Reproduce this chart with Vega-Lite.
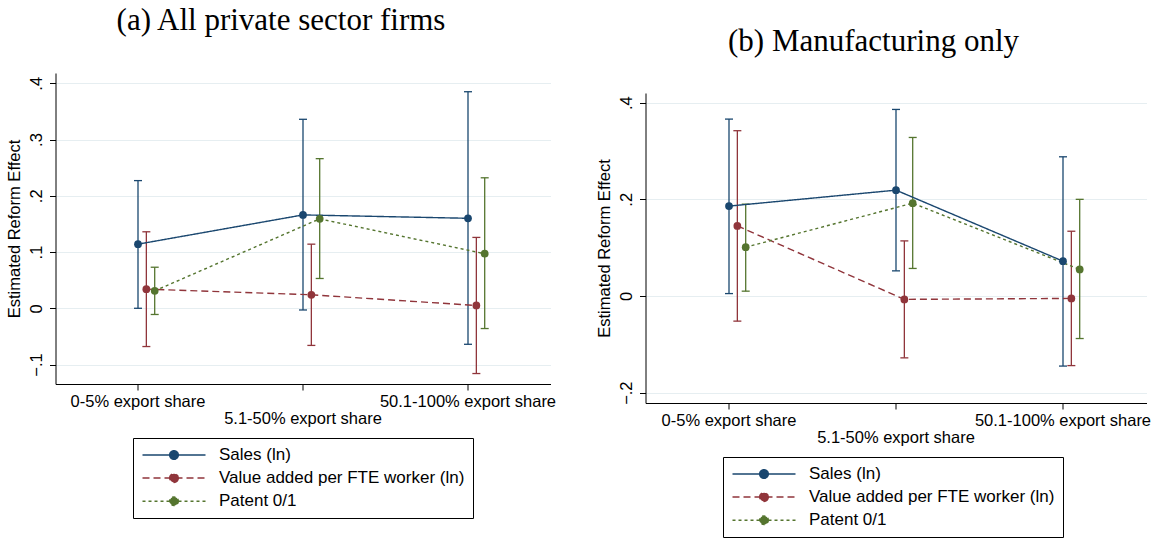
{
  "$schema": "https://vega.github.io/schema/vega-lite/v6.json",
  "background": "white",
  "padding": {"left": 6.5, "top": 5, "right": 0, "bottom": 0},
  "datasets": {
    "est": [
      {"panel": "a", "cat": "0-5% export share", "series": "Sales (ln)", "est": 0.114, "lo": 0.0, "hi": 0.227},
      {"panel": "a", "cat": "5.1-50% export share", "series": "Sales (ln)", "est": 0.166, "lo": -0.003, "hi": 0.336},
      {"panel": "a", "cat": "50.1-100% export share", "series": "Sales (ln)", "est": 0.16, "lo": -0.064, "hi": 0.385},
      {"panel": "a", "cat": "0-5% export share", "series": "Value added per FTE worker (ln)", "est": 0.034, "lo": -0.068, "hi": 0.136},
      {"panel": "a", "cat": "5.1-50% export share", "series": "Value added per FTE worker (ln)", "est": 0.024, "lo": -0.066, "hi": 0.114},
      {"panel": "a", "cat": "50.1-100% export share", "series": "Value added per FTE worker (ln)", "est": 0.005, "lo": -0.116, "hi": 0.126},
      {"panel": "a", "cat": "0-5% export share", "series": "Patent 0/1", "est": 0.031, "lo": -0.011, "hi": 0.073},
      {"panel": "a", "cat": "5.1-50% export share", "series": "Patent 0/1", "est": 0.159, "lo": 0.053, "hi": 0.266},
      {"panel": "a", "cat": "50.1-100% export share", "series": "Patent 0/1", "est": 0.097, "lo": -0.036, "hi": 0.232},
      {"panel": "b", "cat": "0-5% export share", "series": "Sales (ln)", "est": 0.186, "lo": 0.005, "hi": 0.366},
      {"panel": "b", "cat": "5.1-50% export share", "series": "Sales (ln)", "est": 0.219, "lo": 0.052, "hi": 0.386},
      {"panel": "b", "cat": "50.1-100% export share", "series": "Sales (ln)", "est": 0.072, "lo": -0.145, "hi": 0.288},
      {"panel": "b", "cat": "0-5% export share", "series": "Value added per FTE worker (ln)", "est": 0.145, "lo": -0.052, "hi": 0.342},
      {"panel": "b", "cat": "5.1-50% export share", "series": "Value added per FTE worker (ln)", "est": -0.007, "lo": -0.128, "hi": 0.114},
      {"panel": "b", "cat": "50.1-100% export share", "series": "Value added per FTE worker (ln)", "est": -0.005, "lo": -0.144, "hi": 0.134},
      {"panel": "b", "cat": "0-5% export share", "series": "Patent 0/1", "est": 0.101, "lo": 0.01, "hi": 0.19},
      {"panel": "b", "cat": "5.1-50% export share", "series": "Patent 0/1", "est": 0.192, "lo": 0.057, "hi": 0.328},
      {"panel": "b", "cat": "50.1-100% export share", "series": "Patent 0/1", "est": 0.055, "lo": -0.088, "hi": 0.2}
    ]
  },
  "spacing": 40,
  "hconcat": [
    {
      "width": 495,
      "height": 311,
      "title": {"text": "(a) All private sector firms", "offset": 36},
      "data": {"name": "est"},
      "transform": [{"filter": "datum.panel == 'a'"}],
      "encoding": {
        "x": {
          "field": "cat", "type": "nominal", "title": null,
          "scale": {"type": "band", "paddingInner": 0, "paddingOuter": 0, "domain": ["0-5% export share", "5.1-50% export share", "50.1-100% export share"]},
          "axis": {"labelExpr": "datum.value == '5.1-50% export share' ? ['', datum.value] : datum.value"}
        },
        "xOffset": {
          "field": "series", "type": "nominal",
          "scale": {"type": "point", "padding": 0, "domain": ["Sales (ln)", "Value added per FTE worker (ln)", "Patent 0/1"], "range": [82.5, 99.2]}
        }
      },
      "layer": [
        {
          "mark": {"type": "rule", "strokeWidth": 1.3},
          "encoding": {
            "y": {
              "field": "lo", "type": "quantitative", "title": "Estimated Reform Effect",
              "scale": {"domain": [-0.1346, 0.4183], "nice": false, "zero": false},
              "axis": {"values": [-0.1, 0, 0.1, 0.2, 0.3, 0.4], "labelExpr": "datum.value == 0 ? '0' : replace(format(datum.value, '.1f'), '0.', '.')"}
            },
            "y2": {"field": "hi"},
            "stroke": {"field": "series", "type": "nominal", "scale": {"domain": ["Sales (ln)", "Value added per FTE worker (ln)", "Patent 0/1"], "range": ["#1a476f", "#90353b", "#55752f"]}}
          }
        },
        {
          "mark": {"type": "point", "shape": "stroke", "size": 64, "strokeWidth": 1.3, "opacity": 1},
          "encoding": {
            "y": {"field": "lo", "type": "quantitative"},
            "stroke": {"field": "series", "type": "nominal"}
          }
        },
        {
          "mark": {"type": "point", "shape": "stroke", "size": 64, "strokeWidth": 1.3, "opacity": 1},
          "encoding": {
            "y": {"field": "hi", "type": "quantitative"},
            "stroke": {"field": "series", "type": "nominal"}
          }
        },
        {
          "mark": {"type": "line", "strokeWidth": 1.4},
          "encoding": {
            "y": {"field": "est", "type": "quantitative"},
            "stroke": {
              "field": "series", "type": "nominal",
              "legend": {
                "orient": "none", "legendX": 77.5, "legendY": 365, "title": null, "direction": "vertical",
                "symbolType": "M-6.3,0L6.3,0M0.86,0A0.86,0.86,0,1,1,-0.86,0A0.86,0.86,0,1,1,0.86,0",
                "symbolSize": 100, "symbolStrokeWidth": 1.5, "symbolOffset": 24, "labelOffset": 36.5,
                "padding": 8.5, "rowPadding": 5.1, "strokeColor": "black", "labelLimit": 400
              }
            },
            "strokeDash": {"field": "series", "type": "nominal", "scale": {"domain": ["Sales (ln)", "Value added per FTE worker (ln)", "Patent 0/1"], "range": [[1, 0], [7, 4], [3, 3]]}}
          }
        },
        {
          "mark": {"type": "point", "filled": true, "size": 60, "opacity": 1},
          "encoding": {
            "y": {"field": "est", "type": "quantitative"},
            "fill": {"field": "series", "type": "nominal", "scale": {"domain": ["Sales (ln)", "Value added per FTE worker (ln)", "Patent 0/1"], "range": ["#1a476f", "#90353b", "#55752f"]}}
          }
        }
      ]
    },
    {
      "width": 501,
      "height": 330,
      "title": {"text": "(b) Manufacturing only", "offset": 15},
      "data": {"name": "est"},
      "transform": [{"filter": "datum.panel == 'b'"}],
      "encoding": {
        "x": {
          "field": "cat", "type": "nominal", "title": null,
          "scale": {"type": "band", "paddingInner": 0, "paddingOuter": 0, "domain": ["0-5% export share", "5.1-50% export share", "50.1-100% export share"]},
          "axis": {"labelExpr": "datum.value == '5.1-50% export share' ? ['', datum.value] : datum.value"}
        },
        "xOffset": {
          "field": "series", "type": "nominal",
          "scale": {"type": "point", "padding": 0, "domain": ["Sales (ln)", "Value added per FTE worker (ln)", "Patent 0/1"], "range": [83.5, 100.2]}
        }
      },
      "layer": [
        {
          "mark": {"type": "rule", "strokeWidth": 1.3},
          "encoding": {
            "y": {
              "field": "lo", "type": "quantitative", "title": "Estimated Reform Effect",
              "scale": {"domain": [-0.2214, 0.42], "nice": false, "zero": false, "range": [330, 20]},
              "axis": {"values": [-0.2, 0, 0.2, 0.4], "labelExpr": "datum.value == 0 ? '0' : replace(format(datum.value, '.1f'), '0.', '.')"}
            },
            "y2": {"field": "hi"},
            "stroke": {"field": "series", "type": "nominal", "scale": {"domain": ["Sales (ln)", "Value added per FTE worker (ln)", "Patent 0/1"], "range": ["#1a476f", "#90353b", "#55752f"]}}
          }
        },
        {
          "mark": {"type": "point", "shape": "stroke", "size": 64, "strokeWidth": 1.3, "opacity": 1},
          "encoding": {
            "y": {"field": "lo", "type": "quantitative"},
            "stroke": {"field": "series", "type": "nominal"}
          }
        },
        {
          "mark": {"type": "point", "shape": "stroke", "size": 64, "strokeWidth": 1.3, "opacity": 1},
          "encoding": {
            "y": {"field": "hi", "type": "quantitative"},
            "stroke": {"field": "series", "type": "nominal"}
          }
        },
        {
          "mark": {"type": "line", "strokeWidth": 1.4},
          "encoding": {
            "y": {"field": "est", "type": "quantitative"},
            "stroke": {
              "field": "series", "type": "nominal",
              "legend": {
                "orient": "none", "legendX": 77.5, "legendY": 384, "title": null, "direction": "vertical",
                "symbolType": "M-6.3,0L6.3,0M0.86,0A0.86,0.86,0,1,1,-0.86,0A0.86,0.86,0,1,1,0.86,0",
                "symbolSize": 100, "symbolStrokeWidth": 1.5, "symbolOffset": 24, "labelOffset": 36.5,
                "padding": 8.5, "rowPadding": 5.1, "strokeColor": "black", "labelLimit": 400
              }
            },
            "strokeDash": {"field": "series", "type": "nominal", "scale": {"domain": ["Sales (ln)", "Value added per FTE worker (ln)", "Patent 0/1"], "range": [[1, 0], [7, 4], [3, 3]]}}
          }
        },
        {
          "mark": {"type": "point", "filled": true, "size": 60, "opacity": 1},
          "encoding": {
            "y": {"field": "est", "type": "quantitative"},
            "fill": {"field": "series", "type": "nominal", "scale": {"domain": ["Sales (ln)", "Value added per FTE worker (ln)", "Patent 0/1"], "range": ["#1a476f", "#90353b", "#55752f"]}}
          }
        }
      ]
    }
  ],
  "resolve": {
    "scale": {"x": "independent", "y": "independent", "xOffset": "independent", "stroke": "independent", "fill": "independent", "strokeDash": "independent"},
    "legend": {"stroke": "independent", "fill": "independent", "strokeDash": "independent"}
  },
  "config": {
    "font": "Liberation Sans",
    "view": {"stroke": null},
    "title": {"font": "Liberation Serif", "fontSize": 31, "fontWeight": "normal", "color": "black", "anchor": "middle", "frame": "bounds", "baseline": "bottom"},
    "axis": {
      "labelFontSize": 16.5, "labelColor": "black", "labelFont": "Liberation Sans",
      "titleFontSize": 16.5, "titleFontWeight": "normal", "titleColor": "black", "titleFont": "Liberation Sans",
      "tickColor": "black", "tickSize": 6, "domainColor": "black"
    },
    "axisX": {"labelAngle": 0, "labelPadding": 3, "labelLineHeight": 17, "labelOverlap": false, "grid": false},
    "axisY": {"labelAngle": -90, "labelAlign": "center", "labelBaseline": "bottom", "labelPadding": 5, "titlePadding": 6, "grid": true, "gridColor": "#e6eef1", "gridWidth": 1},
    "legend": {"labelFontSize": 17, "labelColor": "black", "labelFont": "Liberation Sans"}
  }
}
